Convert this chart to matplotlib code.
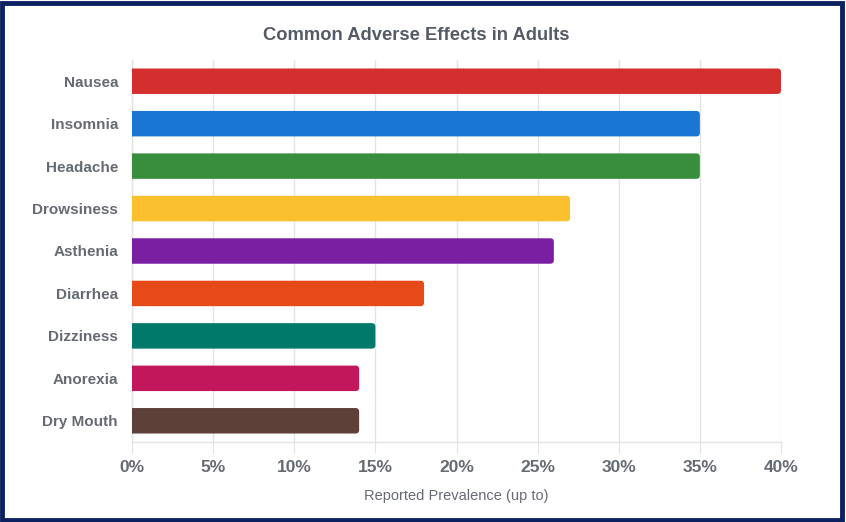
import matplotlib
matplotlib.use("Agg")
import matplotlib.pyplot as plt
from matplotlib.patches import PathPatch, Rectangle
from matplotlib.path import Path
from matplotlib.ticker import FuncFormatter, MultipleLocator

categories = ["Nausea", "Insomnia", "Headache", "Drowsiness", "Asthenia",
              "Diarrhea", "Dizziness", "Anorexia", "Dry Mouth"]
values = [40, 35, 35, 27, 26, 18, 15, 14, 14]
colors = ["#d32f2f", "#1976d2", "#388e3c", "#fbc02d", "#7b1fa2",
          "#e64a19", "#00796b", "#c2185b", "#5d4037"]
title = "Common Adverse Effects in Adults"
xlabel = "Reported Prevalence (up to)"

plt.rcParams['font.family'] = ['Liberation Sans', 'DejaVu Sans']
text_color = "#666a73"
grid_color = "#e3e3e3"

fig = plt.figure(figsize=(8.46, 5.22), dpi=100)
fig.patch.set_facecolor("white")
ax = fig.add_axes([132/846, 1-442/522, (781-132)/846, (442-60)/522])


def right_rounded_bar(x1, yc, h, rx, ry):
    y0, y1 = yc - h/2, yc + h/2
    verts = [(0, y0), (x1 - rx, y0), (x1, y0), (x1, y0 + ry),
             (x1, y1 - ry), (x1, y1), (x1 - rx, y1), (0, y1), (0, y0)]
    codes = [Path.MOVETO, Path.LINETO, Path.CURVE3, Path.CURVE3,
             Path.LINETO, Path.CURVE3, Path.CURVE3, Path.LINETO, Path.CLOSEPOLY]
    return Path(verts, codes)


y = list(range(len(categories)))
bar_h = 0.6
rx = 0.22     # corner radius in x data units (~3.5 px)
ry = 0.085    # corner radius in y data units (~3.5 px)
for yi, v, c in zip(y, values, colors):
    ax.add_patch(PathPatch(right_rounded_bar(v, yi, bar_h, rx, ry),
                           fc=c, ec="none", zorder=3))

ax.set_xlim(0, 40)
ax.set_ylim(len(categories) - 0.5, -0.5)
ax.set_yticks(y)
ax.set_yticklabels(categories)
ax.xaxis.set_major_locator(MultipleLocator(5))
ax.xaxis.set_major_formatter(FuncFormatter(lambda v, p: f"{int(v)}%"))

ax.grid(axis="x", color=grid_color, linewidth=1, zorder=0)
ax.set_axisbelow(True)
for s in ["top", "right"]:
    ax.spines[s].set_visible(False)
for s in ["left", "bottom"]:
    ax.spines[s].set_color(grid_color)
    ax.spines[s].set_linewidth(1)

ax.tick_params(axis="x", length=8, color=grid_color, labelsize=12.5, labelcolor=text_color, pad=5)
ax.tick_params(axis="y", length=0, labelsize=11, labelcolor=text_color, pad=10)
for lab in ax.get_xticklabels() + ax.get_yticklabels():
    lab.set_fontweight("bold")

ax.set_xlabel(xlabel, fontsize=10.5, color=text_color, labelpad=10)
fig.text(416/846, 1-35/522, title, ha="center", va="center",
         fontsize=13.2, fontweight="bold", color="#555b66")

# figure border
border = Rectangle((0.002, 0.004), 0.993, 0.99, transform=fig.transFigure,
                   fill=False, ec="#0b2160", lw=3.5, zorder=10)
fig.patches.append(border)

fig.savefig("out.png", dpi=100)
